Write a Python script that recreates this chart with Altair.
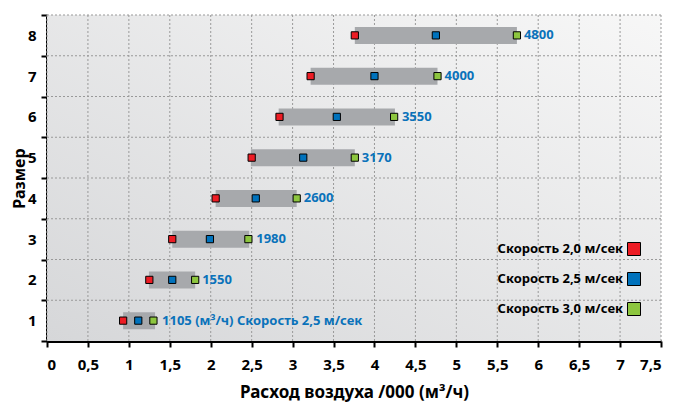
import altair as alt
import pandas as pd

# ---- data (thousand m³/h) ----
sizes = [1, 2, 3, 4, 5, 6, 7, 8]
speed_names = ["Скорость 2,0 м/сек", "Скорость 2,5 м/сек", "Скорость 3,0 м/сек"]
flow_20 = [0.93, 1.25, 1.53, 2.06, 2.50, 2.84, 3.22, 3.76]
flow_25 = [1.115, 1.53, 1.99, 2.55, 3.13, 3.54, 4.00, 4.75]
flow_30 = [1.30, 1.81, 2.46, 3.05, 3.76, 4.24, 4.77, 5.74]
bar_start = [0.93, 1.245, 1.53, 2.06, 2.49, 2.83, 3.22, 3.76]
bar_end = [1.32, 1.81, 2.47, 3.05, 3.76, 4.25, 4.77, 5.74]
label_texts = ["1105 (м³/ч) Скорость 2,5 м/сек", "1550", "1980", "2600",
               "3170", "3550", "4000", "4800"]
x_ticks = [0, 0.5, 1, 1.5, 2, 2.5, 3, 3.5, 4, 4.5, 5, 5.5, 6, 6.5, 7, 7.5]
speed_colors = ["#ed1c24", "#0072bc", "#8dc63f"]

FONT = "Noto Sans"
W, H = 614, 326

bars_df = pd.DataFrame({"size": sizes, "start": bar_start, "end": bar_end,
                        "label": label_texts})
rows = []
for name, vals in zip(speed_names, [flow_20, flow_25, flow_30]):
    for s, v in zip(sizes, vals):
        rows.append({"size": s, "flow": v, "speed": name})
pts_df = pd.DataFrame(rows)
legend_df = pd.DataFrame({"speed": speed_names})
xgrid_df = pd.DataFrame({"t": x_ticks})
ygrid_df = pd.DataFrame({"size": sizes})
bg_df = pd.DataFrame({"k": [0]})

color_scale = alt.Scale(domain=speed_names, range=speed_colors)
y_scale = alt.Scale(paddingInner=0, paddingOuter=0)
y_axis = alt.Axis(
    title="Размер", titleFontSize=16, titleFontWeight="bold", titleColor="black",
    titleFont=FONT, titlePadding=0,
    labelFont=FONT, labelFontSize=15, labelFontWeight="bold", labelColor="black",
    labelPadding=5, labelAngle=0,
    domainColor="black", domainWidth=3, tickColor="black", tickWidth=2, tickSize=6,
    tickBand="extent", grid=False,
)
x_scale = alt.Scale(domain=[0, 7.5], nice=False)
x_axis = alt.Axis(
    title="Расход воздуха /000 (м³/ч)", titleFontSize=17, titleFontWeight="bold",
    titleColor="black", titleFont=FONT, titlePadding=12,
    values=x_ticks, labelExpr="replace(toString(datum.value), '.', ',')",
    labelFont=FONT, labelFontSize=15, labelFontWeight="bold", labelColor="black",
    labelPadding=10,
    domainColor="black", domainWidth=3, tickColor="black", tickWidth=2, tickSize=6,
    grid=False,
)

background = alt.Chart(bg_df).mark_rect(
    fill=alt.LinearGradient(
        gradient="linear",
        stops=[alt.GradientStop(offset=0, color="#d6d7d9"),
               alt.GradientStop(offset=1, color="#f7f7f7")],
        x1=0, y1=1, x2=1, y2=0,
    )
).encode(x=alt.value(0), x2=alt.value(W), y=alt.value(0), y2=alt.value(H))

xgrid = alt.Chart(xgrid_df).mark_rule(
    color="#999999", strokeDash=[2, 2], strokeWidth=1
).encode(x=alt.X("t:Q", scale=x_scale, axis=x_axis))

ygrid = alt.Chart(ygrid_df).mark_rule(
    color="#999999", strokeDash=[2, 2], strokeWidth=1
).encode(y=alt.Y("size:O", sort="descending", scale=y_scale, axis=y_axis,
                 bandPosition=0))

bars = alt.Chart(bars_df).mark_bar(size=17, color="#a7a9ac").encode(
    x=alt.X("start:Q", scale=x_scale),
    x2="end:Q",
    y=alt.Y("size:O", sort="descending", scale=y_scale),
)

points = alt.Chart(pts_df).mark_square(size=52, stroke="black", strokeWidth=1,
                                       opacity=1).encode(
    x=alt.X("flow:Q", scale=x_scale),
    y=alt.Y("size:O", sort="descending", scale=y_scale),
    color=alt.Color("speed:N", scale=color_scale, legend=None),
)

labels = alt.Chart(bars_df).mark_text(
    align="left", baseline="middle", dx=7, font=FONT, fontSize=13,
    fontWeight="bold", color="#0a72ba",
).encode(
    x=alt.X("end:Q", scale=x_scale),
    y=alt.Y("size:O", sort="descending", scale=y_scale),
    text="label:N",
)

legend_y = alt.Y("speed:N",
                 scale=alt.Scale(type="point", domain=speed_names,
                                 range=[234, 294], padding=0),
                 axis=None)
legend_sq = alt.Chart(legend_df).mark_square(
    size=169, stroke="black", strokeWidth=1, opacity=1
).encode(
    x=alt.value(587), y=legend_y,
    color=alt.Color("speed:N", scale=color_scale, legend=None),
)
legend_txt = alt.Chart(legend_df).mark_text(
    align="right", baseline="middle", font=FONT, fontSize=13, fontWeight="bold",
    color="black",
).encode(x=alt.value(576), y=legend_y, text="speed:N")

main = alt.layer(background, xgrid, ygrid, bars, points, labels)
leg = alt.layer(legend_sq, legend_txt)

chart = alt.layer(main, leg).resolve_scale(y="independent").properties(
    width=W, height=H,
    autosize=alt.AutoSizeParams(type="none"),
    padding={"left": 39, "top": 7, "right": 6, "bottom": 62},
).configure_view(stroke=None)

chart.save("out.html", embed_options={"renderer": "svg", "actions": False})
